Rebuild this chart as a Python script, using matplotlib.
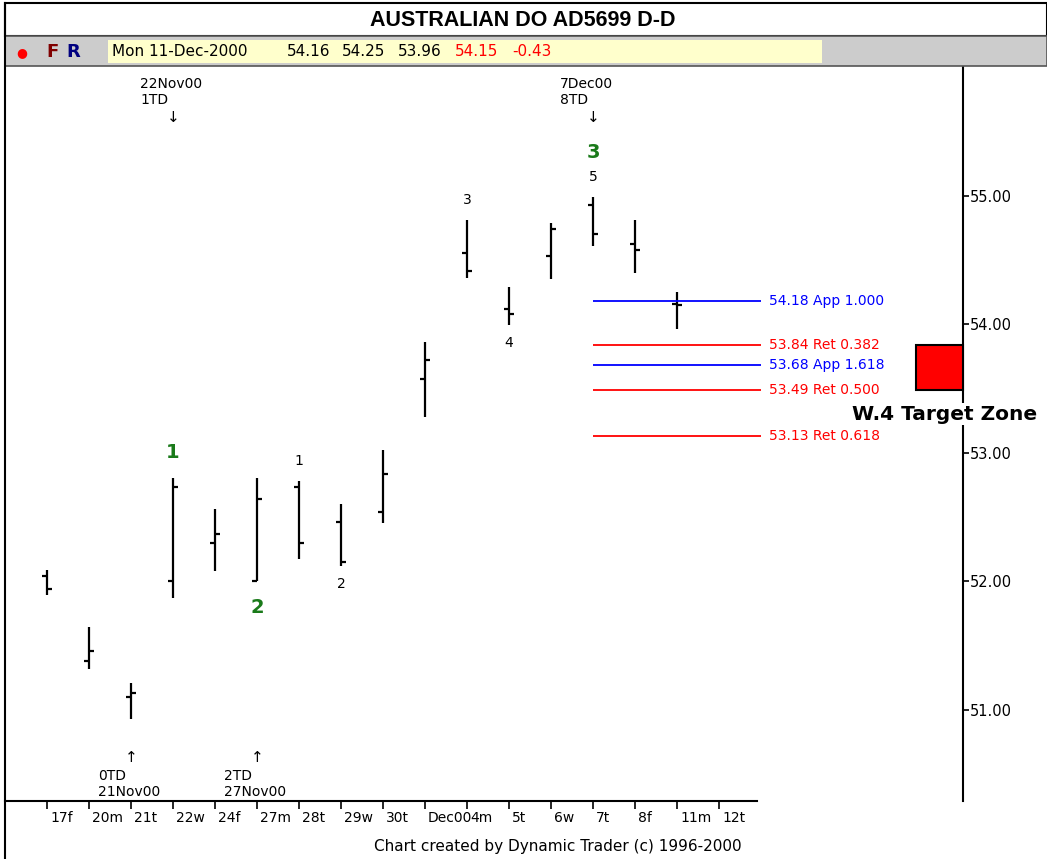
import matplotlib
matplotlib.use("Agg")
import matplotlib.pyplot as plt
import matplotlib.transforms as mtransforms
from matplotlib.patches import Rectangle

# daily bars, 17 Nov 2000 .. 11 Dec 2000
day_labels = ['17f', '20m', '21t', '22w', '24f', '27m', '28t', '29w', '30t',
              'Dec00', '4m', '5t', '6w', '7t', '8f', '11m', '12t']
opens = [52.04, 51.38, 51.10, 52.00, 52.30, 52.00, 52.73, 52.46, 52.54,
         53.57, 54.55, 54.12, 54.53, 54.93, 54.62, 54.16]
highs = [52.09, 51.64, 51.21, 52.80, 52.56, 52.80, 52.78, 52.60, 53.02,
         53.86, 54.81, 54.29, 54.79, 54.99, 54.81, 54.25]
lows = [51.89, 51.32, 50.93, 51.87, 52.08, 52.00, 52.17, 52.12, 52.45,
        53.28, 54.36, 53.99, 54.35, 54.61, 54.40, 53.96]
closes = [51.94, 51.46, 51.13, 52.73, 52.37, 52.64, 52.30, 52.15, 52.83,
          53.72, 54.41, 54.08, 54.74, 54.70, 54.58, 54.15]

# projection levels drawn from the 7Dec00 high
level_prices = [54.18, 53.84, 53.68, 53.49, 53.13]
level_names = ['App 1.000', 'Ret 0.382', 'App 1.618', 'Ret 0.500', 'Ret 0.618']
level_colors = ['blue', 'red', 'blue', 'red', 'red']

# wave counts: (label, bar index, above/below)
major_waves = [('1', 3, 'high'), ('2', 5, 'low'), ('3', 13, 'high')]
minor_waves = [('1', 6, 'high'), ('2', 7, 'low'), ('3', 10, 'high'),
               ('4', 11, 'low'), ('5', 13, 'high')]

zone_low, zone_high = 53.49, 53.84
y_ticks = [51, 52, 53, 54, 55]

W, H = 1047, 859
fig = plt.figure(figsize=(W / 100, H / 100), dpi=100)
fig.patch.set_facecolor('white')


def px(x0, y0, x1, y1):
    # pixel box -> figure fraction rect
    return [x0 / W, 1 - y1 / H, (x1 - x0) / W, (y1 - y0) / H]


# header: title box, gray bar, yellow quote box
r = px(5, 3, 1047, 36)
fig.patches.append(Rectangle((r[0], r[1]), r[2], r[3], transform=fig.transFigure,
                             fc='white', ec='black', lw=1.5))
r = px(5, 36, 1047, 66)
fig.patches.append(Rectangle((r[0], r[1]), r[2], r[3], transform=fig.transFigure,
                             fc='#cccccc', ec='#555555', lw=1.2))
r = px(108, 40, 822, 63)
fig.patches.append(Rectangle((r[0], r[1]), r[2], r[3], transform=fig.transFigure,
                             fc='#ffffcc', ec='#ffffcc', lw=0))
fig.add_artist(plt.Line2D([5 / W, 5 / W], [0, 1 - 3 / H], transform=fig.transFigure,
                          color='black', lw=1.5))

fig.text(523 / W, 1 - 20 / H, 'AUSTRALIAN DO AD5699 D-D', ha='center', va='center',
         fontsize=15.5, fontweight='bold', family='Liberation Sans')
fig.text(22 / W, 1 - 53 / H, '\u25cf', color='red', ha='center', va='center', fontsize=9)
fig.text(52 / W, 1 - 52 / H, 'F', color='#800000', ha='center', va='center',
         fontsize=13, fontweight='bold')
fig.text(73 / W, 1 - 52 / H, 'R', color='#000080', ha='center', va='center',
         fontsize=13, fontweight='bold')
quote = [('Mon 11-Dec-2000', 112, 'black'), ('54.16', 287, 'black'),
         ('54.25', 342, 'black'), ('53.96', 398, 'black'),
         ('54.15', 455, 'red'), ('-0.43', 512, 'red')]
for txt, xx, col in quote:
    fig.text(xx / W, 1 - 52 / H, txt, color=col, ha='left', va='center', fontsize=11)

fig.text(742 / W, 1 - 847 / H, 'Chart created by Dynamic Trader (c) 1996-2000',
         ha='right', va='center', fontsize=11)

# price panel
ax = fig.add_axes(px(5, 67, 963, 801))
ax.set_xlim(-1.0, 21.81)
ax.set_ylim(50.29, 56.0)
for s in ['top', 'left']:
    ax.spines[s].set_visible(False)
ax.spines['right'].set_linewidth(1.5)
ax.spines['bottom'].set_linewidth(1.5)
ax.spines['bottom'].set_bounds(-1.0, 16.9)

n = len(opens)
xs = list(range(n))
tw = 0.13
ax.vlines(xs, lows, highs, color='black', lw=1.6)
ax.hlines(opens, [x - tw for x in xs], xs, color='black', lw=1.6)
ax.hlines(closes, xs, [x + tw for x in xs], color='black', lw=1.6)

# x axis
ax.set_xticks(range(len(day_labels)))
ax.set_xticklabels(day_labels, fontsize=10)
ax.tick_params(axis='x', direction='out', length=6, width=1.2, pad=1)
offset = mtransforms.ScaledTranslation(3 / 100, 0, fig.dpi_scale_trans)
for lab in ax.get_xticklabels():
    lab.set_horizontalalignment('left')
    lab.set_transform(lab.get_transform() + offset)

# y axis on right
ax.yaxis.tick_right()
ax.set_yticks(y_ticks)
ax.set_yticklabels(['%.2f' % v for v in y_ticks], fontsize=10.5)
ax.tick_params(axis='y', direction='out', length=4, width=1.2, pad=1)

# projection lines
for p, name, col in zip(level_prices, level_names, level_colors):
    ax.hlines(p, 13, 17.0, color=col, lw=1.3)
    ax.text(17.2, p, '%.2f %s' % (p, name), color=col, fontsize=10, va='center', ha='left')

# target zone
ax.add_patch(Rectangle((20.69, zone_low), 21.81 - 20.69, zone_high - zone_low,
                       fc='red', ec='black', lw=1.5, zorder=5, clip_on=False))
ax.text(21.36, 53.30, 'W.4 Target Zone', fontsize=14.5, fontweight='bold',
        ha='center', va='center', zorder=6, clip_on=False,
        bbox=dict(fc='white', ec='none', pad=1))

# wave labels
for lab, i, side in major_waves:
    if side == 'high':
        y, dy = highs[i], 26 if lab != '3' else 44
    else:
        y, dy = lows[i], -26
    ax.annotate(lab, (i, y), xytext=(0, dy * 0.72), textcoords='offset points',
                ha='center', va='center', color='#1a7a1a', fontsize=14, fontweight='bold')
for lab, i, side in minor_waves:
    y = highs[i] if side == 'high' else lows[i]
    dy = 20 if side == 'high' else -18
    ax.annotate(lab, (i, y), xytext=(0, dy * 0.72), textcoords='offset points',
                ha='center', va='center', color='black', fontsize=10)

# time-day annotations
top_notes = [(3, '22Nov00', '1TD'), (13, '7Dec00', '8TD')]
for i, d, td in top_notes:
    ax.annotate('\u2193', (i, 56.0), xytext=(0, -51 * 0.72), textcoords='offset points',
                ha='center', va='center', fontsize=11)
    ax.annotate(d + '\n' + td, (i, 56.0), xytext=(-33 * 0.72, -25 * 0.72),
                textcoords='offset points', ha='left', va='center', fontsize=10,
                linespacing=1.15)
bot_notes = [(2, '21Nov00', '0TD'), (5, '27Nov00', '2TD')]
for i, d, td in bot_notes:
    ax.annotate('\u2191', (i, 50.29), xytext=(0, 43 * 0.72), textcoords='offset points',
                ha='center', va='center', fontsize=11)
    ax.annotate(td + '\n' + d, (i, 50.29), xytext=(-33 * 0.72, 17 * 0.72),
                textcoords='offset points', ha='left', va='center', fontsize=10,
                linespacing=1.1)

fig.savefig('out.png', dpi=100)
